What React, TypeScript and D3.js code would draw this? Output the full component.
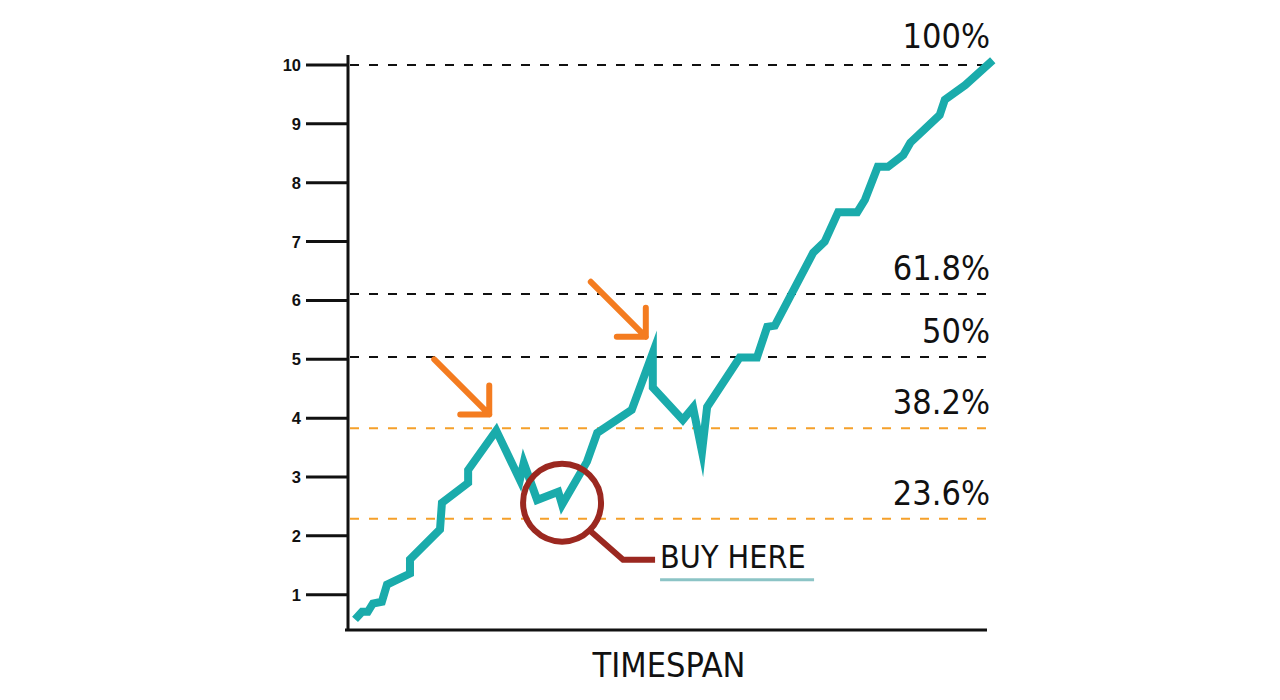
import React from "react";
import { scaleLinear, line, curveLinear } from "d3";

// price path (time index, value)
const times = [
  1.1, 2.2, 3.1, 3.9, 5.3, 6.1, 9.7, 9.7, 14.4, 14.7, 18.8, 18.8, 23.2, 26.9,
  27.5, 29.6, 32.9, 33.5, 37.4, 39.0, 44.4, 47.7, 47.7, 52.4, 54.0, 55.4, 56.2,
  61.3, 64.0, 65.6, 66.8, 72.8, 74.6, 76.7, 79.7, 80.9, 82.9, 84.5, 86.9, 88.0,
  92.6, 93.4, 96.6, 100.9,
];
const values = [
  0.58, 0.71, 0.71, 0.85, 0.88, 1.17, 1.36, 1.6, 2.11, 2.56, 2.9, 3.12, 3.79,
  2.95, 3.24, 2.61, 2.75, 2.53, 3.26, 3.75, 4.14, 5.11, 4.52, 3.97, 4.18, 3.43,
  4.19, 5.03, 5.03, 5.55, 5.57, 6.81, 7.0, 7.5, 7.5, 7.71, 8.27, 8.27, 8.47,
  8.68, 9.15, 9.41, 9.66, 10.08,
];

const yTicks = [1, 2, 3, 4, 5, 6, 7, 8, 9, 10];

// fibonacci retracement levels
const levelLabels = ["100%", "61.8%", "50%", "38.2%", "23.6%"];
const levelPercents = [100, 61.8, 50, 38.2, 23.6];
const levelValues = [10, 6.11, 5.04, 3.83, 2.29];

// annotations: indices into the path
const arrowIdx = [12, 21];
const buyIdx = 17;
const buyLabel = "BUY HERE";
const xTitle = "TIMESPAN";

const W = 1280;
const H = 700;
const condensed = "'DejaVu Sans Condensed', 'DejaVu Sans', sans-serif";

export default function App() {
  const x = scaleLinear().domain([0, 100]).range([348, 987]);
  const y = scaleLinear().domain([0.4, 10]).range([630, 65]);

  const pts = times.map((t, i) => [t, values[i]] as [number, number]);
  const path = line<[number, number]>()
    .x((d) => x(d[0]))
    .y((d) => y(d[1]))
    .curve(curveLinear)(pts);

  const cx = x(times[buyIdx]);
  const cy = y(values[buyIdx]) - 2;

  return (
    <svg
      width={W}
      height={H}
      style={{ position: "absolute", left: 0, top: 0, background: "#fff" }}
    >
      {/* level lines */}
      {levelValues.map((v, i) => (
        <g key={levelLabels[i]}>
          <line
            x1={350}
            x2={990}
            y1={y(v)}
            y2={y(v)}
            stroke={levelPercents[i] < 50 ? "#F5A02A" : "#111"}
            strokeWidth={2}
            strokeDasharray="9 10"
          />
          <text
            x={990}
            y={y(v) - (i === 0 ? 17 : 14)}
            textAnchor="end"
            fontFamily={condensed}
            fontSize={34}
            fill="#111"
          >
            {levelLabels[i]}
          </text>
        </g>
      ))}

      {/* axes */}
      <line x1={348} x2={348} y1={55} y2={631} stroke="#111" strokeWidth={3} />
      <line x1={345} x2={987} y1={630} y2={630} stroke="#111" strokeWidth={3} />
      {yTicks.map((t) => (
        <g key={t}>
          <line
            x1={306}
            x2={348}
            y1={y(t)}
            y2={y(t)}
            stroke="#111"
            strokeWidth={3}
          />
          <text
            x={301}
            y={y(t) + 6}
            textAnchor="end"
            fontFamily="'Liberation Sans', Arial, sans-serif"
            fontWeight="bold"
            fontSize={16.5}
            fill="#111"
          >
            {t}
          </text>
        </g>
      ))}
      <text
        x={669}
        y={677}
        textAnchor="middle"
        fontFamily={condensed}
        fontSize={34}
        fill="#111"
      >
        {xTitle}
      </text>

      {/* price line */}
      <path
        d={path ?? ""}
        fill="none"
        stroke="#1AABAB"
        strokeWidth={8}
        strokeLinejoin="miter"
        strokeMiterlimit={10}
      />

      {/* orange arrows pointing at the peaks */}
      {arrowIdx.map((i) => (
        <g
          key={i}
          transform={`translate(${x(times[i]) - 7},${y(values[i]) - 16})`}
        >
          <path
            d="M-55,-55L0,0M-29,0L0,0L0,-29"
            fill="none"
            stroke="#F47C20"
            strokeWidth={6}
            strokeLinecap="round"
            strokeLinejoin="round"
          />
        </g>
      ))}

      {/* buy zone */}
      <g transform={`translate(${cx},${cy})`}>
        <circle r={39} fill="none" stroke="#9B2820" strokeWidth={6} />
        <path
          d="M28,28L61,57L93,57"
          fill="none"
          stroke="#9B2820"
          strokeWidth={6}
        />
        <text
          x={98}
          y={65}
          fontFamily={condensed}
          fontSize={32}
          fill="#111"
        >
          {buyLabel}
        </text>
        <line
          x1={98}
          x2={252}
          y1={77}
          y2={77}
          stroke="#8CC4C6"
          strokeWidth={3}
        />
      </g>
    </svg>
  );
}
